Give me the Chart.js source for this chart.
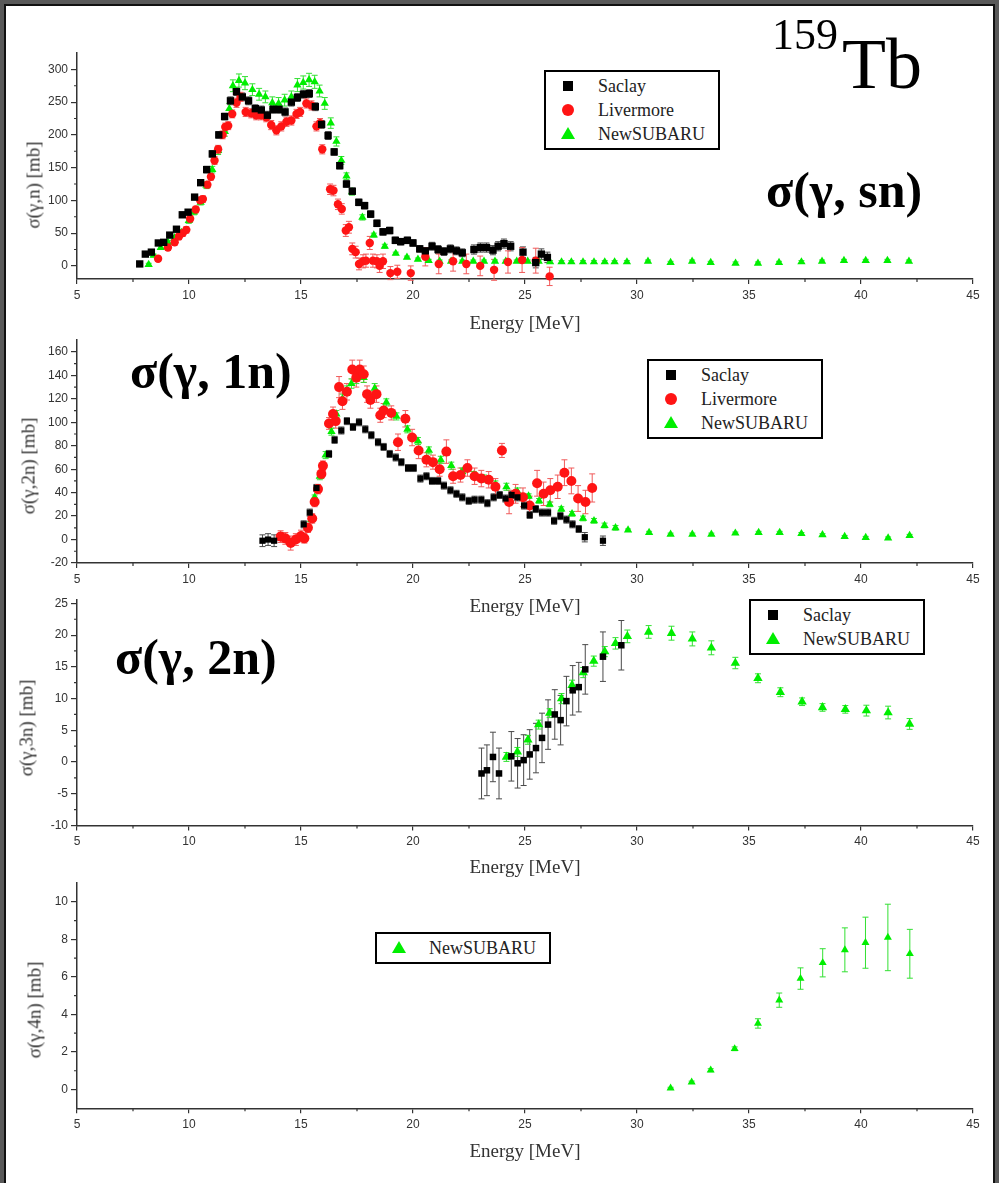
<!DOCTYPE html>
<html>
<head>
<meta charset="utf-8">
<title>159Tb photoneutron cross sections</title>
<script src="https://cdn.jsdelivr.net/npm/chart.js@4.4.0/dist/chart.umd.min.js"></script>
<style>
  html, body { margin: 0; padding: 0; }
  body { width: 999px; height: 1183px; background: #595959; position: relative; overflow: hidden; }
  #sheet { position: absolute; left: 4px; top: 4px; width: 991px; height: 1200px; background: #fff;
           box-sizing: border-box; border: 2px solid #111; border-bottom: none; }
  canvas.panel { position: absolute; left: 0; }
  .note { position: absolute; font-family: 'Liberation Serif', 'Times New Roman', serif; color: #000;
          white-space: nowrap; line-height: 1; }
  .note.big { font-weight: bold; font-size: 50px; }
  .ytitle { position: absolute; font-family: 'Liberation Serif', serif; font-size: 19px; color: #333;
            white-space: nowrap; line-height: 1; transform: translate(-50%, -50%) rotate(-90deg); }
  .legend { position: absolute; background: #fff; border: 2px solid #000; box-sizing: border-box; width: 176px; }
  .legend .mk { position: absolute; }
  .legend .txt { position: absolute; left: 52px; font-family: 'Liberation Serif', serif; font-size: 18px;
                 color: #222; line-height: 1; white-space: nowrap; transform: translateY(-50%); }
</style>
</head>
<body>
<div id="sheet"></div>

<script>
// ---- axis ticks ----------------------------------------------------------
const ENERGY_TICKS = [5, 10, 15, 20, 25, 30, 35, 40, 45];
const GN_TICKS  = [0, 50, 100, 150, 200, 250, 300];
const G2N_TICKS = [-20, 0, 20, 40, 60, 80, 100, 120, 140, 160];
const G3N_TICKS = [-10, -5, 0, 5, 10, 15, 20, 25];
const G4N_TICKS = [0, 2, 4, 6, 8, 10];

// ---- measured cross sections: [energy MeV, sigma mb, error mb] ----------
const GN_SACLAY = [
  [7.80,3,3],[8.05,18,3],[8.32,21,3],[8.63,35,3],[8.87,36,3],[9.14,47,3],[9.44,56,4],[9.70,78,4],
  [9.96,82,4],[10.25,105,4],[10.52,127,4],[10.79,147,5],[11.04,171,5],[11.33,200,5],[11.59,228,5],
  [11.85,252,6],[12.12,266,6],[12.38,258,6],[12.66,252,6],[12.96,240,6],[13.23,238,6],[13.50,230,6],
  [13.75,239,6],[14.02,239,6],[14.29,235,6],[14.57,250,6],[14.84,257,6],[15.11,262,6],[15.37,263,6],
  [15.64,243,6],[15.92,216,6],[16.21,199,6],[16.48,174,5],[16.73,153,5],[17.03,125,5],[17.29,114,5],
  [17.58,97,5],[17.84,92,5],[18.11,79,5],[18.39,65,5],[18.66,52,5],[18.96,54,5],[19.21,39,5],
  [19.45,37,5],[19.75,39,5],[20.00,35,5],[20.30,26,5],[20.55,23,5],[20.85,30,6],[21.12,25,6],
  [21.38,22,6],[21.67,26,6],[21.94,23,6],[22.20,20,6],[22.72,25,7],[23.01,28,7],[23.28,28,7],
  [23.57,24,7],[23.80,30,7],[24.06,34,7],[24.36,30,7],[24.91,21,8],[25.48,5,8],[25.73,18,8],[26.00,13,8]
];
const GN_LIVERMORE = [
  [8.62,11,4],[9.06,28,4],[9.36,36,4],[9.55,45,5],[9.72,50,5],[9.88,55,5],[10.05,72,5],[10.30,86,5],
  [10.50,100,5],[10.62,102,5],[10.82,124,5],[10.98,136,5],[11.14,161,6],[11.30,178,6],[11.50,200,6],
  [11.62,212,6],[11.75,214,6],[11.93,232,6],[12.12,249,7],[12.30,258,7],[12.53,235,7],[12.78,233,7],
  [13.00,230,7],[13.22,230,7],[13.45,227,7],[13.67,215,7],[13.90,207,7],[14.12,213,7],[14.35,220,7],
  [14.57,222,7],[14.80,232,7],[14.96,235,7],[15.24,248,7],[15.47,245,7],[15.69,213,7],[15.85,218,7],
  [15.95,178,7],[16.30,117,8],[16.45,115,8],[16.65,94,8],[16.82,87,8],[17.00,54,9],[17.14,59,9],
  [17.29,26,9],[17.44,21,9],[17.59,3,9],[17.77,7,10],[17.90,8,10],[18.07,35,10],[18.21,8,10],
  [18.39,7,10],[18.51,0,10],[18.66,7,11],[18.99,-11,10],[19.30,-9,10],[19.90,-11,11],[20.55,14,14],
  [21.15,3,15],[21.79,7,15],[22.38,3,15],[23.00,0,15],[23.62,-6,16],[24.24,6,17],[24.87,9,19],
  [25.48,8,19],[26.10,-16,14]
];
const GN_NEWSUBARU = [
  [8.20,2,2],[8.42,16,2],[8.74,28,3],[9.06,36,3],[9.36,43,3],[9.66,51,3],[9.99,69,4],[10.22,82,4],
  [10.52,97,4],[10.78,123,5],[11.04,147,5],[11.30,176,6],[11.60,205,7],[11.80,240,8],[11.96,275,9],
  [12.23,283,10],[12.50,279,10],[12.83,269,9],[13.13,262,9],[13.41,258,9],[13.72,249,9],[14.00,248,9],
  [14.27,253,9],[14.57,258,9],[14.84,276,10],[15.10,280,10],[15.36,284,10],[15.61,281,10],[15.83,267,9],
  [16.06,248,9],[16.33,218,8],[16.58,190,7],[16.80,161,6],[17.03,137,5],[17.28,113,5],[17.74,74,4],
  [18.25,47,3],[18.74,30,3],[19.23,19,2],[19.73,13,2],[20.22,10,2],[20.70,8,2],[21.19,7,2],[21.70,7,2],
  [22.20,7,2],[22.69,7,2],[23.17,7,2],[23.66,7,2],[24.14,7,2],[24.63,7,2],[25.12,7,2],[25.61,7,2],
  [26.12,6,2],[26.63,6,2],[27.07,6,2],[27.59,6,2],[28.08,6,2],[28.56,6,2],[29.00,6,2],[29.55,6,2],
  [30.49,7,2],[31.50,5,2],[32.46,7,2],[33.29,5,2],[34.40,4,2],[35.40,4,2],[36.34,5,2],[37.34,6,2],
  [38.26,7,2],[39.24,8,2],[40.21,8,2],[41.18,8,2],[42.14,7,2]
];

const G2N_SACLAY = [
  [13.28,-1,5],[13.53,0,5],[13.80,-1,5],[15.12,13,3],[15.39,23,3],[15.69,44,3],[16.25,73,3],[16.50,85,3],
  [16.80,93,3],[17.05,101,3],[17.32,96,3],[17.59,100,3],[17.87,94,3],[18.14,89,3],[18.44,83,3],
  [18.69,79,3],[18.96,73,3],[19.23,70,3],[19.48,66,3],[19.78,61,3],[20.03,61,3],[20.33,52,3],
  [20.60,54,3],[20.85,50,3],[21.12,50,3],[21.38,46,3],[21.67,42,3],[21.94,39,3],[22.20,36,3],
  [22.49,33,3],[22.75,34,3],[23.05,34,3],[23.32,31,3],[23.60,36,3],[23.87,38,3],[24.13,35,3],
  [24.40,38,3],[24.66,36,3],[24.96,29,3],[25.21,21,3],[25.48,26,3],[25.76,23,3],[26.03,23,3],
  [26.30,16,3],[26.58,20,3],[26.85,17,3],[27.12,13,3],[27.40,9,3],[27.67,2,4],[28.48,-1,4]
];
const G2N_LIVERMORE = [
  [14.09,2.5,5],[14.30,1,5],[14.54,-3,6],[14.77,0,5],[15.00,3,5],[15.15,1,4],[15.31,10,4],[15.50,18,4],
  [15.61,32,4],[15.76,43,4],[15.91,56,4],[15.98,63,4],[16.25,99,5],[16.43,107,6],[16.55,101,6],
  [16.70,130,9],[16.85,118,7],[17.05,126,7],[17.29,145,8],[17.47,138,8],[17.62,145,8],[17.80,141,7],
  [17.95,124,7],[18.10,119,7],[18.37,124,7],[18.54,106,6],[18.69,110,6],[19.03,108,6],[19.33,83,7],
  [19.66,103,7],[19.96,87,7],[20.25,76,7],[20.60,68,6],[20.89,66,6],[21.19,60,6],[21.49,75,10],
  [21.79,54,6],[22.12,55,6],[22.43,61,7],[22.75,54,7],[23.05,52,7],[23.38,51,7],[23.68,45,7],
  [23.97,76,6],[24.29,32,10],[24.58,39,8],[24.91,36,8],[25.21,29,8],[25.54,48,11],[25.83,39,10],
  [26.13,42,10],[26.46,45,10],[26.76,57,11],[27.07,50,11],[27.37,35,11],[27.70,32,10],[28.00,44,12]
];
const G2N_NEWSUBARU = [
  [15.46,17,2],[15.61,36,2],[15.84,54,3],[16.10,72,3],[16.36,92,3],[16.58,107,3],[16.85,120,4],
  [17.05,127,4],[17.25,133,4],[17.47,137,4],[17.80,138,4],[18.29,129,4],[18.81,117,3],[19.26,105,3],
  [19.75,94,3],[20.22,84,3],[20.71,76,3],[21.24,68,3],[21.71,63,3],[22.20,58,3],[22.71,55,3],
  [23.17,52,3],[23.68,47,3],[24.17,45,3],[24.66,41,3],[25.16,37,2],[25.63,33,2],[26.10,30,2],
  [26.62,26,2],[27.10,22,2],[27.59,18,2],[28.08,16,2],[28.55,12,2],[29.04,10,2],[29.60,8,1],
  [30.54,6,1],[31.50,4.5,1],[32.47,4.5,1],[33.32,4.5,1],[34.39,5.4,1],[35.43,6,1],[36.37,6,1],
  [37.34,5,1],[38.28,4,1],[39.27,2.5,1],[40.21,1.7,1],[41.21,1.2,1],[42.17,3.4,1]
];

const G3N_SACLAY = [
  [23.06,-1.8,4.0],[23.30,-1.3,4.0],[23.57,0.8,3.9],[23.84,-1.8,4.0],[24.39,0.9,3.9],[24.67,-0.2,3.9],
  [24.94,0.3,4.0],[25.21,1.2,3.9],[25.49,2.2,3.9],[25.76,3.8,3.9],[26.03,5.9,3.9],[26.33,7.5,3.9],
  [26.59,6.6,3.9],[26.85,9.6,3.9],[27.13,11.3,3.9],[27.40,11.8,3.9],[27.69,14.6,3.9],[28.48,16.6,3.9],
  [29.30,18.4,3.9]
];
const G3N_NEWSUBARU = [
  [24.17,0.8,0.7],[24.66,1.6,0.7],[25.13,3.5,0.7],[25.61,5.9,0.7],[26.10,7.7,0.7],[26.63,10.0,0.8],
  [27.10,12.1,0.8],[27.60,14.1,0.8],[28.07,15.9,0.8],[28.56,17.4,0.8],[29.04,18.7,0.9],[29.57,19.8,1.0],
  [30.52,20.5,1.0],[31.54,20.3,1.1],[32.47,19.4,1.1],[33.32,18.0,1.1],[34.39,15.6,0.9],[35.40,13.2,0.7],
  [36.40,11.0,0.7],[37.37,9.5,0.6],[38.28,8.6,0.6],[39.30,8.3,0.6],[40.24,8.1,0.85],[41.21,7.8,1.0],
  [42.17,6.0,0.85]
];

const G4N_NEWSUBARU = [
  [31.50,0.07,0.05],[32.44,0.39,0.06],[33.29,1.03,0.08],[34.36,2.17,0.1],[35.40,3.52,0.25],
  [36.35,4.76,0.38],[37.30,5.91,0.57],[38.29,6.75,0.75],[39.28,7.44,1.17],[40.20,7.82,1.36],
  [41.20,8.10,1.77],[42.18,7.23,1.30]
];

// ---- series appearance -------------------------------------------------
const LOOK = {
  'Saclay':    { shape: 'rect',     fill: '#000000', bar: '#4a4a4a' },
  'Livermore': { shape: 'circle',   fill: '#ff1414', bar: '#f05a5a' },
  'NewSUBARU': { shape: 'triangle', fill: '#00ee00', bar: '#33e033' }
};

// vertical error bars with caps, drawn beneath the markers
const errorBars = {
  id: 'errorBars',
  beforeDatasetsDraw(chart) {
    const ctx = chart.ctx;
    chart.data.datasets.forEach((ds, i) => {
      const meta = chart.getDatasetMeta(i);
      const ys = chart.scales[meta.yAxisID];
      ctx.save();
      ctx.strokeStyle = ds.barColor;
      ctx.lineWidth = 1;
      ctx.beginPath();
      meta.data.forEach((pt, j) => {
        const e = ds.errors[j];
        if (!e) return;
        const v = ds.data[j].y;
        const y0 = ys.getPixelForValue(v - e);
        const y1 = ys.getPixelForValue(v + e);
        const x = pt.x;
        ctx.moveTo(x, y0); ctx.lineTo(x, y1);
        ctx.moveTo(x - 3, y0); ctx.lineTo(x + 3, y0);
        ctx.moveTo(x - 3, y1); ctx.lineTo(x + 3, y1);
      });
      ctx.stroke();
      ctx.restore();
    });
  }
};

// short minor ticks halfway between the labelled ticks
const minorTicks = {
  id: 'minorTicks',
  afterDraw(chart) {
    const { ctx, chartArea } = chart;
    const xs = chart.scales.x, ys = chart.scales.y;
    const mids = t => t.slice(1).map((k, i) => (t[i].value + k.value) / 2);
    ctx.save();
    ctx.strokeStyle = '#333';
    ctx.lineWidth = 1.2;
    ctx.beginPath();
    mids(xs.ticks).forEach(v => {
      const p = xs.getPixelForValue(v);
      ctx.moveTo(p, chartArea.bottom); ctx.lineTo(p, chartArea.bottom + 3);
    });
    mids(ys.ticks).forEach(v => {
      const p = ys.getPixelForValue(v);
      ctx.moveTo(chartArea.left, p); ctx.lineTo(chartArea.left - 3, p);
    });
    ctx.stroke();
    ctx.restore();
  }
};

function addLegend(chart, box) {
  const el = document.createElement('div');
  el.className = 'legend';
  const n = chart.data.datasets.length;
  el.style.left = box.left + 'px';
  el.style.top = box.top + 'px';
  el.style.height = (8 + 24 * n) + 'px';
  chart.data.datasets.forEach((ds, i) => {
    const cy = 14 + 24 * i;
    const look = LOOK[ds.label];
    const mk = document.createElement('div');
    mk.className = 'mk';
    if (look.shape === 'rect') {
      Object.assign(mk.style, { width: '10px', height: '10px', background: look.fill,
        left: '17px', top: (cy - 5) + 'px' });
    } else if (look.shape === 'circle') {
      Object.assign(mk.style, { width: '12px', height: '12px', background: look.fill, borderRadius: '50%',
        left: '16px', top: (cy - 6) + 'px' });
    } else {
      Object.assign(mk.style, { width: '0', height: '0', borderLeft: '7.5px solid transparent',
        borderRight: '7.5px solid transparent', borderBottom: '12px solid ' + look.fill,
        left: '14.5px', top: (cy - 7) + 'px' });
    }
    el.appendChild(mk);
    const tx = document.createElement('div');
    tx.className = 'txt';
    tx.style.top = cy + 'px';
    tx.textContent = ds.label;
    el.appendChild(tx);
  });
  document.body.appendChild(el);
}

function buildPanel(p) {
  const cv = document.createElement('canvas');
  cv.className = 'panel';
  cv.width = 999;
  cv.height = p.canvasHeight;
  cv.style.top = p.canvasTop + 'px';
  document.body.appendChild(cv);

  const xAxisHeight = p.xAxisHeight;
  const padTop = p.areaTop - p.canvasTop;
  const padBottom = p.canvasHeight - (p.areaBottom - p.canvasTop) - xAxisHeight;

  const datasets = p.series.map(s => {
    const look = LOOK[s.name];
    return {
      label: s.name,
      data: s.points.map(q => ({ x: q[0], y: q[1] })),
      errors: s.points.map(q => q[2]),
      barColor: look.bar,
      pointStyle: look.shape,
      pointRadius: p.radius[s.name],
      pointBackgroundColor: look.fill,
      pointBorderColor: look.fill,
      pointBorderWidth: 0,
      showLine: false,
      clip: false
    };
  });

  const axisLine = { display: true, color: '#333', width: 1.5 };
  const tickFont = { family: "'Liberation Sans', Arial, sans-serif", size: 12 };

  const chart = new Chart(cv, {
    type: 'scatter',
    data: { datasets },
    options: {
      responsive: false,
      animation: false,
      events: [],
      layout: { padding: { left: 0, right: 26, top: padTop, bottom: padBottom } },
      plugins: { legend: { display: false }, tooltip: { enabled: false } },
      scales: {
        x: {
          type: 'linear', min: 5, max: 45,
          afterBuildTicks: s => { s.ticks = ENERGY_TICKS.map(v => ({ value: v })); },
          afterFit: s => { s.height = xAxisHeight; },
          border: axisLine,
          grid: { drawOnChartArea: false, drawTicks: true, tickLength: 5, color: '#333', lineWidth: 1.2 },
          ticks: { color: '#333', font: tickFont, padding: 4, maxRotation: 0, callback: v => String(v) },
          title: { display: true, text: 'Energy [MeV]', color: '#333',
                   font: { family: "'Liberation Serif', serif", size: 19 }, padding: 0 }
        },
        y: {
          type: 'linear', min: p.yMin, max: p.yMax,
          afterBuildTicks: s => { s.ticks = p.yTicks.map(v => ({ value: v })); },
          afterFit: s => { s.width = 77; },
          border: axisLine,
          grid: { drawOnChartArea: false, drawTicks: true, tickLength: 6, color: '#333', lineWidth: 1.2 },
          ticks: { color: '#333', font: tickFont, padding: 3, callback: v => String(v) }
        }
      }
    },
    plugins: [errorBars, minorTicks]
  });

  addLegend(chart, p.legend);

  const t = document.createElement('div');
  t.className = 'ytitle';
  t.style.left = p.yTitlePos[0] + 'px';
  t.style.top = p.yTitlePos[1] + 'px';
  t.textContent = p.yTitle;
  document.body.appendChild(t);
  return chart;
}

const sizesA = { 'Saclay': 5.2, 'Livermore': 4.2, 'NewSUBARU': 4.8 };
const sizesB = { 'Saclay': 4.4, 'Livermore': 5.0, 'NewSUBARU': 4.8 };
const sizesC = { 'Saclay': 4.6, 'NewSUBARU': 5.4 };
const sizesD = { 'NewSUBARU': 4.6 };

buildPanel({
  canvasTop: 0, canvasHeight: 345, areaTop: 53, areaBottom: 279, xAxisHeight: 56.4,
  yMin: -20, yMax: 325, yTicks: GN_TICKS, yTitle: 'σ(γ,n) [mb]', yTitlePos: [33, 185],
  legend: { left: 544, top: 70 }, radius: sizesA,
  series: [
    { name: 'Saclay', points: GN_SACLAY },
    { name: 'Livermore', points: GN_LIVERMORE },
    { name: 'NewSUBARU', points: GN_NEWSUBARU }
  ]
});
buildPanel({
  canvasTop: 330, canvasHeight: 295, areaTop: 337, areaBottom: 563, xAxisHeight: 55.4,
  yMin: -20, yMax: 170, yTicks: G2N_TICKS, yTitle: 'σ(γ,2n) [mb]', yTitlePos: [28, 466],
  legend: { left: 647, top: 359 }, radius: sizesB,
  series: [
    { name: 'Saclay', points: G2N_SACLAY },
    { name: 'Livermore', points: G2N_LIVERMORE },
    { name: 'NewSUBARU', points: G2N_NEWSUBARU }
  ]
});
buildPanel({
  canvasTop: 590, canvasHeight: 295, areaTop: 597, areaBottom: 825.5, xAxisHeight: 54,
  yMin: -10, yMax: 25.5, yTicks: G3N_TICKS, yTitle: 'σ(γ,3n) [mb]', yTitlePos: [26, 728],
  legend: { left: 749, top: 599 }, radius: sizesC,
  series: [
    { name: 'Saclay', points: G3N_SACLAY },
    { name: 'NewSUBARU', points: G3N_NEWSUBARU }
  ]
});
buildPanel({
  canvasTop: 870, canvasHeight: 313, areaTop: 883, areaBottom: 1108.3, xAxisHeight: 55.1,
  yMin: -1, yMax: 11, yTicks: G4N_TICKS, yTitle: 'σ(γ,4n) [mb]', yTitlePos: [34, 1010],
  legend: { left: 375, top: 932 }, radius: sizesD,
  series: [
    { name: 'NewSUBARU', points: G4N_NEWSUBARU }
  ]
});
</script>

<div class="note" style="left:772px; top:13px; font-size:44px;">159</div>
<div class="note" style="left:842px; top:28px; font-size:72px;">Tb</div>
<div class="note big" style="left:766px; top:165px;">σ(γ, sn)</div>
<div class="note big" style="left:130px; top:346px;">σ(γ, 1n)</div>
<div class="note big" style="left:115px; top:632px;">σ(γ, 2n)</div>
</body>
</html>
